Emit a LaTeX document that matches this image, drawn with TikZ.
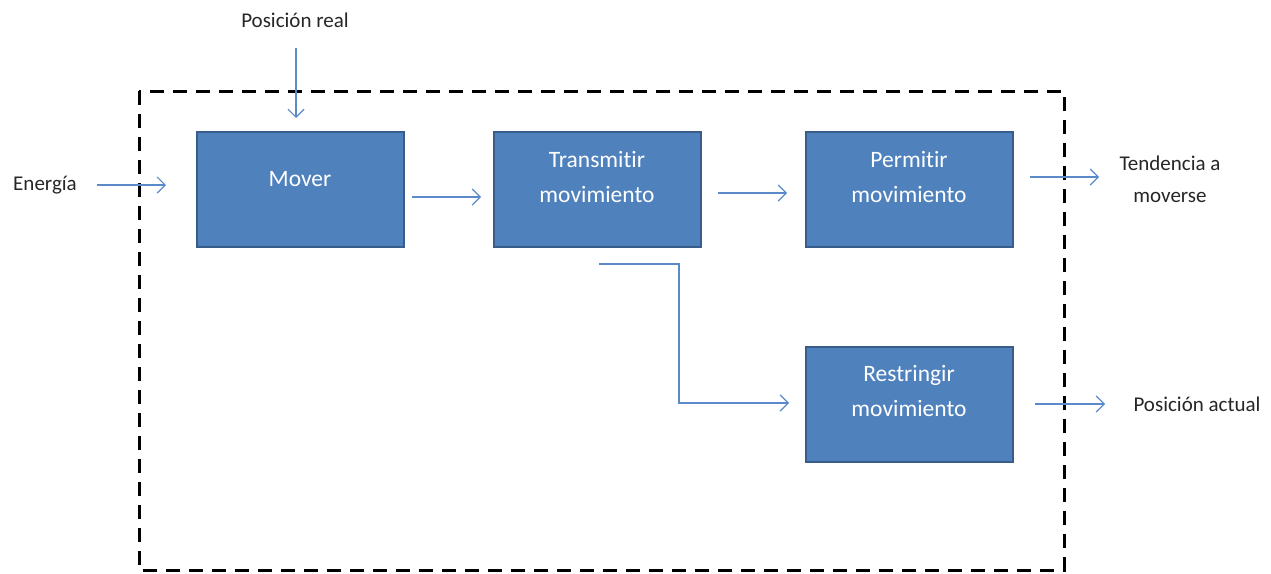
\documentclass[tikz,border=0pt]{standalone}
\usepackage{fontspec}
\setmainfont[Ligatures=NoCommon]{Carlito}
\usetikzlibrary{arrows.meta}
\definecolor{boxfill}{HTML}{4F81BD}
\definecolor{boxdraw}{HTML}{385D8A}
\definecolor{arrowc}{HTML}{5B8ACB}
\begin{document}
\begin{tikzpicture}[x=1pt,y=-1pt,
  blockbox/.style={draw=boxdraw,line width=2.2pt,fill=boxfill,minimum width=207pt,minimum height=115pt,anchor=north west,inner sep=0pt},
  boxtext/.style={text=white,font=\fontsize{23.5}{35}\selectfont,align=center},
  lbl/.style={font=\fontsize{21}{32}\selectfont,text=black!85,align=center},
  conn/.style={draw=arrowc,line width=1.2pt,-{Straight Barb[length=8pt,width=16pt,line width=1.2pt]}},
  frame/.style={draw=black,line width=3pt,dash pattern=on 14pt off 9pt}]
\useasboundingbox (0,0) rectangle (1271,573);
% dashed frame
\draw[frame] (139,91) rectangle (1064,570);
% blocks
\node[blockbox] (mover) at (196,131) {};
\node[blockbox] (trans) at (493,131) {};
\node[blockbox] (perm) at (805,131) {};
\node[blockbox] (restr) at (805,346) {};
\node[boxtext] (tmover) at (300,179) {Mover};
\node[boxtext] (ttrans) at (597,177) {Transmitir\\movimiento};
\node[boxtext] (tperm) at (909,177) {Permitir\\movimiento};
\node[boxtext] (trestr) at (909,391) {Restringir\\movimiento};
% labels
\node[lbl] (energia) at (45,185) {Energía};
\node[lbl] (preal) at (295,20) {Posición real};
\node[lbl] (tend) at (1170,179) {Tendencia a\\moverse};
\node[lbl,anchor=west] (pact) at (1130,404) {Posición actual};
% coordinates for arrow ends
\coordinate (e1) at (97,185);  \coordinate (e2) at (166,185);
\coordinate (p1) at (296,48);  \coordinate (p2) at (296,118);
\coordinate (m1) at (412,197); \coordinate (m2) at (481,197);
\coordinate (t1) at (718,193); \coordinate (t2) at (787,193);
\coordinate (o1) at (1030,177); \coordinate (o2) at (1099,177);
\coordinate (b1) at (599,264); \coordinate (b2) at (679,264); \coordinate (b3) at (679,403); \coordinate (b4) at (789,403);
\coordinate (r1) at (1035,404); \coordinate (r2) at (1105,404);
% connectors
\draw[conn] (e1) -- (e2);
\draw[conn] (p1) -- (p2);
\draw[conn] (m1) -- (m2);
\draw[conn] (t1) -- (t2);
\draw[conn] (o1) -- (o2);
\draw[conn] (b1) -- (b2) -- (b3) -- (b4);
\draw[conn] (r1) -- (r2);
\end{tikzpicture}
\end{document}
